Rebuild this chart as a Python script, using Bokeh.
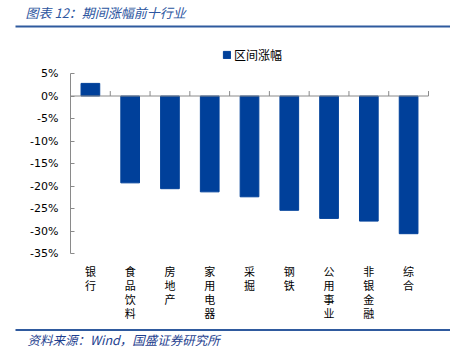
from bokeh.plotting import figure
from bokeh.models import FixedTicker, Range1d, Legend, LegendItem
from bokeh.core.properties import value
from bokeh.embed import file_html
from bokeh.resources import INLINE
import numpy as np

categories = ["银行", "食品饮料", "房地产", "家用电器", "采掘", "钢铁", "公用事业", "非银金融", "综合"]
values = [2.8, -19.3, -20.6, -21.3, -22.4, -25.4, -27.2, -27.8, -30.6]
y_ticks = [-35, -30, -25, -20, -15, -10, -5, 0, 5]
y_tick_labels = ["-35%", "-30%", "-25%", "-20%", "-15%", "-10%", "-5%", "0%", "5%"]
series_name = "区间涨幅"
title_text = "图表 12：期间涨幅前十行业"
source_text = "资料来源：Wind，国盛证券研究所"

W, H = 450, 355
n = len(categories)
Y0, Y1 = -35, 5
# pixel geometry of the plotting area inside the canvas
PL, PR, PT, PB = 70, 428, 73, 253
kx = (PR - PL) / n
ky = (PB - PT) / (Y1 - Y0)
x_start, x_end = -PL / kx, n + (W - PR) / kx
y_end, y_start = Y1 + PT / ky, Y0 - (H - PB) / ky


def px(xp):      # canvas pixel -> x data
    return x_start + xp / kx


def py(yp):      # canvas pixel -> y data
    return y_end - yp / ky


BAR = "#00409A"
AX = "#8A8A8A"
CJK = "Noto Sans CJK SC"
TITLE_C = "#2C55A0"
LINE_C = "#2F5A9E"
SRC_C = "#1F3F8F"

p = figure(width=W, height=H, output_backend="svg", toolbar_location=None,
           x_range=Range1d(x_start, x_end), y_range=Range1d(y_start, y_end),
           min_border=0, min_border_left=0, min_border_right=0,
           min_border_top=0, min_border_bottom=0)
p.outline_line_color = None
p.xgrid.visible = False
p.ygrid.visible = False
p.background_fill_color = "white"
p.border_fill_color = "white"

centers = np.arange(n) + 0.5
r = p.vbar(x=centers, top=values, bottom=0, width=0.47, fill_color=BAR, line_color=BAR)

# zero line with category separator ticks
p.segment(x0=[0], x1=[n], y0=[0], y1=[0], line_color=AX, line_width=1)
bounds = np.arange(1, n + 1)
p.segment(x0=bounds, x1=bounds, y0=np.zeros(n), y1=np.full(n, 1.1), line_color=AX, line_width=1)

# y axis fixed at x = 0
ya = p.yaxis[0]
ya.fixed_location = 0
ya.ticker = FixedTicker(ticks=y_ticks)
ya.major_label_overrides = {t: l for t, l in zip(y_ticks, y_tick_labels)}
ya.bounds = (Y0, Y1)
ya.axis_line_color = AX
ya.major_tick_line_color = AX
ya.major_tick_in = 4
ya.major_tick_out = 0
ya.minor_tick_line_color = None
ya.major_label_text_font = "DejaVu Sans"
ya.major_label_text_font_size = "11px"
ya.major_label_text_color = "#000000"
ya.major_label_standoff = 12

# x axis labels fixed at the bottom of the value axis
xa = p.xaxis[0]
xa.fixed_location = Y0
xa.ticker = FixedTicker(ticks=list(centers))
xa.major_label_overrides = {float(c): "\n".join(list(cat)) for c, cat in zip(centers, categories)}
xa.axis_line_color = None
xa.major_tick_line_color = None
xa.minor_tick_line_color = None
xa.major_label_text_font = CJK
xa.major_label_text_font_size = "11px"
xa.major_label_text_line_height = 0.88
xa.major_label_text_color = "#000000"
xa.major_label_standoff = 3

leg = Legend(items=[LegendItem(label=series_name, renderers=[r])], location=(222, H - 63),
             orientation="horizontal")
leg.border_line_color = None
leg.background_fill_alpha = 0
leg.padding = 0
leg.margin = 0
leg.glyph_width = 9
leg.glyph_height = 9
leg.label_standoff = 3
leg.label_text_font = CJK
leg.label_text_font_size = "12px"
leg.label_text_color = "#000000"
p.add_layout(leg)

# header and footer
p.text(x=[px(25)], y=[py(12)], text=[title_text], text_font=value(CJK), text_font_size="13px",
       text_font_style="italic", text_color=TITLE_C, text_baseline="middle")
p.segment(x0=[px(15)], x1=[px(W)], y0=[py(26)], y1=[py(26)], line_color=LINE_C, line_width=2)
p.segment(x0=[px(15)], x1=[px(W)], y0=[py(329.5)], y1=[py(329.5)], line_color=LINE_C, line_width=2)
p.text(x=[px(27)], y=[py(339)], text=[source_text], text_font=value(CJK), text_font_size="12.5px",
       text_font_style="italic", text_color=SRC_C, text_baseline="middle")

open("out.html", "w").write(file_html(p, INLINE))
